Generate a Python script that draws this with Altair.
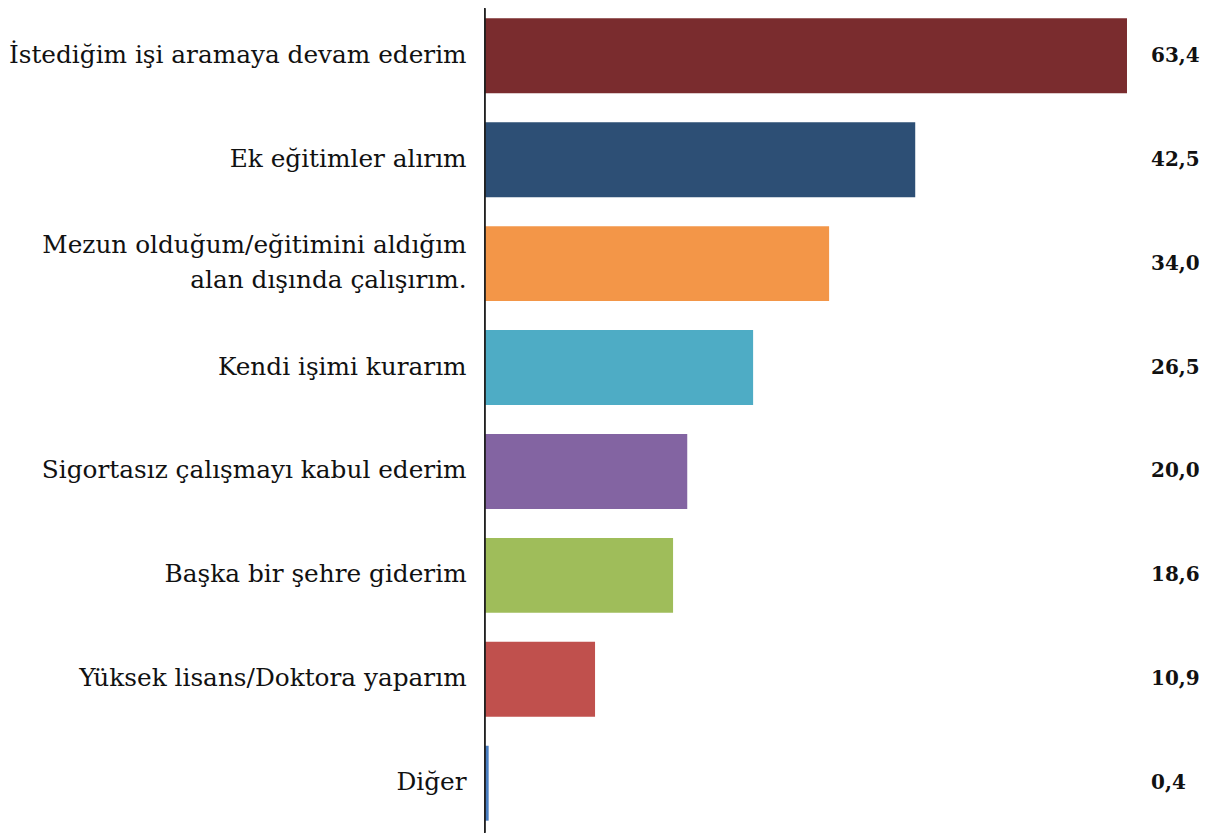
import altair as alt
import pandas as pd

categories = [
    "İstediğim işi aramaya devam ederim",
    "Ek eğitimler alırım",
    "Mezun olduğum/eğitimini aldığım\nalan dışında çalışırım.",
    "Kendi işimi kurarım",
    "Sigortasız çalışmayı kabul ederim",
    "Başka bir şehre giderim",
    "Yüksek lisans/Doktora yaparım",
    "Diğer",
]
values = [63.4, 42.5, 34.0, 26.5, 20.0, 18.6, 10.9, 0.4]
colors = ["#7A2C2E", "#2D4F75", "#F39648", "#4EACC5", "#8364A2", "#9FBD5A", "#C0504D", "#4A7EC1"]

df = pd.DataFrame({"cat": categories, "value": values, "color": colors})
df["multi"] = df["cat"].str.contains("\n")

FONT = "DejaVu Serif"
LABEL_SIZE = 24.8
LINE_H = 35

y = alt.Y("cat:N", sort=categories, axis=None,
          scale=alt.Scale(paddingInner=0.279, paddingOuter=0.096))

base = alt.Chart(df)

bars = base.mark_bar().encode(
    y=y,
    x=alt.X("value:Q", axis=None, scale=alt.Scale(domain=[0, 71], nice=False)),
    color=alt.Color("color:N", scale=None, legend=None),
)

cat_single = base.transform_filter("!datum.multi").mark_text(
    align="right", baseline="middle", font=FONT, fontSize=LABEL_SIZE,
    color="#111111",
).encode(
    y=y,
    x=alt.value(-18),
    text="cat:N",
)

cat_multi = base.transform_filter("datum.multi").mark_text(
    align="right", baseline="middle", font=FONT, fontSize=LABEL_SIZE,
    color="#111111", lineBreak="\n", lineHeight=LINE_H, dy=-LINE_H / 2,
).encode(
    y=y,
    x=alt.value(-18),
    text="cat:N",
)

val_labels = base.transform_calculate(
    lbl="replace(format(datum.value, '.1f'), '.', ',')"
).mark_text(
    align="left", baseline="middle", font=FONT, fontSize=20,
    fontWeight="bold", color="#111111",
).encode(
    y=y,
    x=alt.value(667),
    text="lbl:N",
)

axis_line = base.mark_rule(color="#222222", strokeWidth=1.2).encode(
    x=alt.value(0), y=alt.value(0), y2=alt.value(825)
)

chart = alt.layer(bars, cat_single, cat_multi, val_labels, axis_line).properties(
    width=720,
    height=823,
    autosize=alt.AutoSizeParams(type="none"),
    padding={"left": 477, "top": 0, "right": 0, "bottom": 4},
).configure_view(stroke=None)

chart.save("out.html", embed_options={"renderer": "svg", "actions": False})
